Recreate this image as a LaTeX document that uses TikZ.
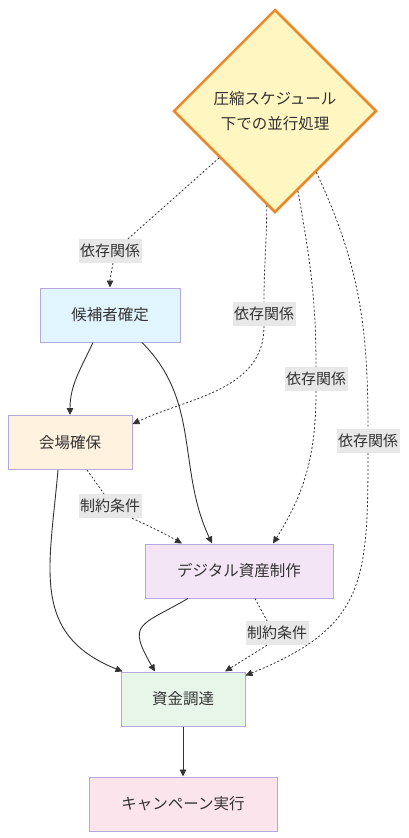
\documentclass[tikz,border=0pt]{standalone}
\usepackage{fontspec}
\setmainfont{Noto Sans CJK JP}
\usetikzlibrary{arrows.meta}
\usetikzlibrary{shapes.geometric}
\usetikzlibrary{positioning}

\definecolor{txtgray}{HTML}{333333}
\definecolor{linegray}{HTML}{333333}
\definecolor{lblgray}{HTML}{E8E8E8}
\definecolor{boxline}{HTML}{B5A8DE}
\definecolor{diaedge}{HTML}{E8892B}
\definecolor{diafill}{HTML}{FFF6C2}
\definecolor{candfill}{HTML}{E1F5FE}
\definecolor{venuefill}{HTML}{FFF3E0}
\definecolor{digifill}{HTML}{F3E5F5}
\definecolor{fundfill}{HTML}{E8F5E9}
\definecolor{campfill}{HTML}{FCE4EC}

\begin{document}
\begin{tikzpicture}[x=1pt,y=1pt,>={Triangle[length=7pt,width=6.5pt]},
	every node/.style={text=txtgray,font=\fontsize{15.5}{25}\selectfont},
	task/.style={draw=boxline,line width=1pt,minimum height=54pt,inner sep=0pt},
	cond/.style={diamond,aspect=1,draw=diaedge,fill=diafill,line width=2.5pt,
		minimum width=203pt,minimum height=203pt,inner sep=0pt,align=center},
	lbl/.style={fill=lblgray,inner sep=1.5pt,minimum height=24pt,
		font=\fontsize{15}{17}\selectfont},
	dep/.style={->,color=linegray,line width=0.8pt,dash pattern=on 2pt off 2pt},
	flow/.style={->,color=linegray,line width=0.9pt}]
	\useasboundingbox (0,0) rectangle (408,-838);
	\node[cond] (crunch) at (275,-111) {圧縮スケジュール\\下での並行処理};
	\node[task,fill=candfill,minimum width=140pt] (cand) at (110,-315) {候補者確定};
	\node[task,fill=venuefill,minimum width=124pt] (venue) at (70,-442.5) {会場確保};
	\node[task,fill=digifill,minimum width=188pt] (digital) at (239,-571) {デジタル資産制作};
	\node[task,fill=fundfill,minimum width=124pt] (fund) at (183,-699) {資金調達};
	\node[task,fill=campfill,minimum width=188pt] (camp) [below=50pt of fund] {キャンペーン実行};
	% edge labels
	\node[lbl] (dep1) at (110,-251) {依存関係};
	\node[lbl] (dep2) at (264,-314) {依存関係};
	\node[lbl] (dep3) at (316,-379) {依存関係};
	\node[lbl] (dep4) at (368,-441) {依存関係};
	\node[lbl] (lim1) at (110,-506) {制約条件};
	\node[lbl] (lim2) at (277,-633) {制約条件};
	\path[dep]	(crunch.220) edge[-] ([xshift=18pt]dep1.north)
			([xshift=3pt]dep1.south) edge[out=-100,in=90] (cand.north)
			(crunch.265) edge[-,out=-90,in=90] (dep2.north)
			(dep2.south) edge[out=-90,in=25] ([yshift=-9pt]venue.north east)
			(crunch.286) edge[-,out=-80,in=90] (dep3.north)
			(dep3.south) edge[out=-90,in=58] ([xshift=34pt]digital.north)
			(crunch.304) edge[-,out=-65,in=90] (dep4.north)
			(dep4.south) edge[out=-90,in=22,looseness=1.3] ([yshift=-4pt]fund.north east)
			([xshift=17pt]venue.south) edge[-] ([xshift=-6pt]lim1.north)
			([xshift=22pt]lim1.south) edge[out=-25,in=150] ([xshift=-57pt]digital.north)
			([xshift=16pt]digital.south) edge[-] ([xshift=-10pt]lim2.north)
			([xshift=-10pt]lim2.south) edge ([xshift=42pt]fund.north);
	\path[flow]	([xshift=-17pt]cand.south) edge[out=-115,in=90] (venue.north)
			([xshift=32pt]cand.south) edge[out=-45,in=115] ([xshift=-27pt]digital.north)
			([xshift=-12pt]venue.south) edge[out=-95,in=158,looseness=1.2] ([xshift=2pt]fund.north west)
			([xshift=-51pt]digital.south) edge[out=-150,in=120,looseness=1.8] ([xshift=-28pt]fund.north)
			(fund) edge (camp);
\end{tikzpicture}
\end{document}
